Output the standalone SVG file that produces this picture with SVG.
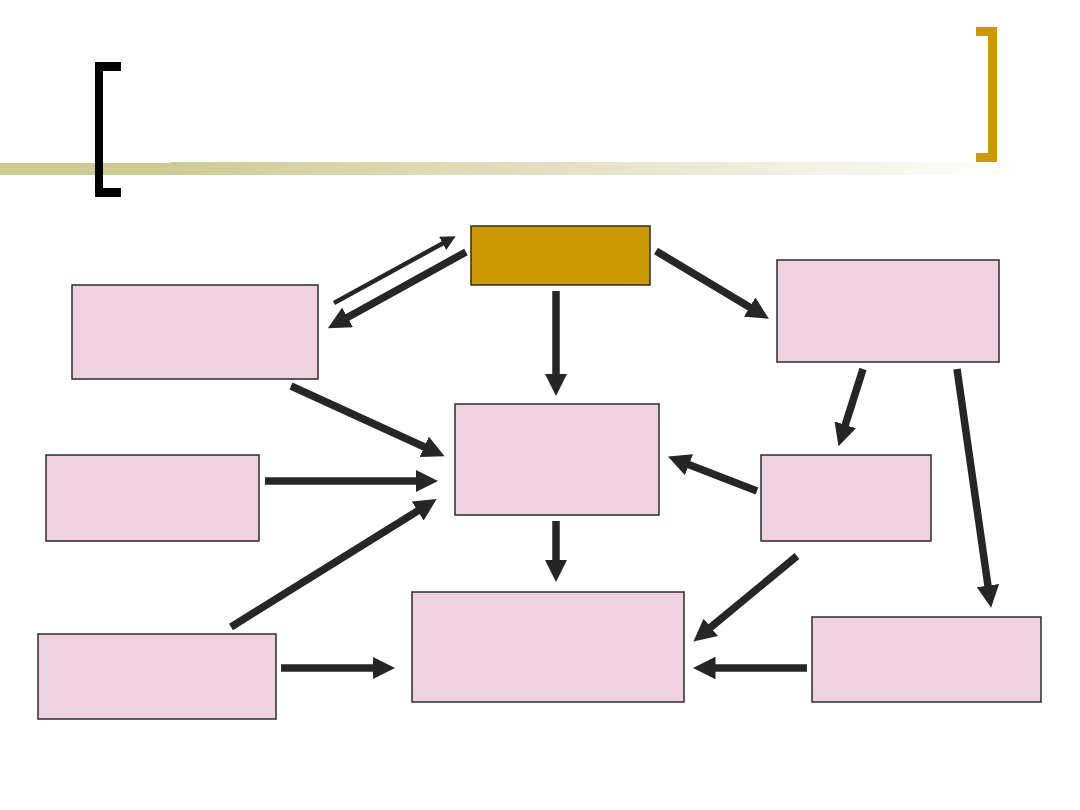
<svg xmlns="http://www.w3.org/2000/svg" width="1080" height="810" viewBox="0 0 1080 810">
<style>
.box{fill:#efd1e0;stroke:#2b2b2b;stroke-width:1.5}
.gold{fill:#cc9900;stroke:#2b2b2b;stroke-width:1.5}
.con{stroke:#262626;stroke-width:7.5;fill:none;marker-end:url(#ah)}
.thin{stroke:#262626;stroke-width:4.5;fill:none;marker-end:url(#ah2)}
</style>
<defs>
<linearGradient id="bar" x1="0" y1="0" x2="1" y2="0">
<stop offset="0" stop-color="#cfcb98"/>
<stop offset="0.45" stop-color="#e3e0c2"/>
<stop offset="1" stop-color="#ffffff"/>
</linearGradient>
<marker id="ah" viewBox="0 0 3 3" markerWidth="3" markerHeight="3" refX="1" refY="1.5" orient="auto" markerUnits="strokeWidth">
<path d="M0,0 L3,1.5 L0,3 z" fill="#262626"/>
</marker>
<marker id="ah2" viewBox="0 0 3 3" markerWidth="3.3" markerHeight="3.3" refX="1" refY="1.5" orient="auto" markerUnits="strokeWidth">
<path d="M0,0 L3,1.5 L0,3 z" fill="#262626"/>
</marker>
</defs>
<rect width="1080" height="810" fill="#ffffff"/>
<g id="title-decor">
<rect x="0" y="163" width="170" height="12" fill="#cdca96"/>
<rect x="170" y="162" width="850" height="13" fill="url(#bar)"/>
<path d="M121,62 H95 V197 H121 V188 H103 V71 H121 Z" fill="#000000"/>
<path d="M976,27 H997 V162 H976 V153 H988 V36 H976 Z" fill="#cc9900"/>
</g>
<g id="node-top"><rect class="gold" x="471" y="226" width="179" height="59"/></g>
<g id="node-left-top"><rect class="box" x="72" y="285" width="246" height="94"/></g>
<g id="node-right-top"><rect class="box" x="777" y="260" width="222" height="102"/></g>
<g id="node-center"><rect class="box" x="455" y="404" width="204" height="111"/></g>
<g id="node-left-mid"><rect class="box" x="46" y="455" width="213" height="86"/></g>
<g id="node-right-mid"><rect class="box" x="761" y="455" width="170" height="86"/></g>
<g id="node-bottom-center"><rect class="box" x="412" y="592" width="272" height="110"/></g>
<g id="node-bottom-left"><rect class="box" x="38" y="634" width="238" height="85"/></g>
<g id="node-bottom-right"><rect class="box" x="812" y="617" width="229" height="85"/></g>
<g id="connectors">
<line class="thin" x1="334" y1="303" x2="447" y2="241"/>
<line class="con" x1="466" y1="252" x2="341" y2="321"/>
<line class="con" x1="656" y1="251" x2="756" y2="311"/>
<line class="con" x1="556" y1="291" x2="556" y2="381"/>
<line class="con" x1="863" y1="369" x2="843" y2="432"/>
<line class="con" x1="957" y1="369" x2="989" y2="593"/>
<line class="con" x1="291" y1="386" x2="431" y2="450"/>
<line class="con" x1="265" y1="481" x2="423" y2="481"/>
<line class="con" x1="231" y1="627" x2="424" y2="507"/>
<line class="con" x1="757" y1="491" x2="682" y2="462"/>
<line class="con" x1="556" y1="521" x2="556" y2="567"/>
<line class="con" x1="797" y1="556" x2="705" y2="632"/>
<line class="con" x1="807" y1="668" x2="708" y2="668"/>
<line class="con" x1="281" y1="668" x2="380" y2="668"/>
</g>
</svg>
